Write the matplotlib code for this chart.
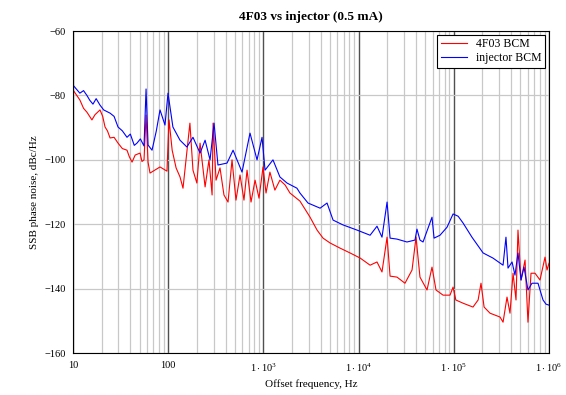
import numpy as np
import matplotlib.pyplot as plt
from matplotlib.ticker import FixedLocator, NullFormatter

# injector BCM (blue): offset frequency in Hz, SSB phase noise in dBc/Hz
inj_f = [10, 11.8, 12.9, 14.0, 15, 16.2, 17.5, 19.2, 21, 24.5, 27, 29.7, 33, 36.9, 40, 44,
         47, 51, 55.7, 58.5, 61.4, 67.6, 75,
         82, 92.5, 99.5, 112, 133, 157, 182, 216, 244, 275, 303, 333, 415, 480,
         596, 723, 857, 967, 1040, 1260, 1490, 1770, 2250, 2420, 2940, 3940,
         4660, 5390, 6860, 9620, 13200, 15600, 17600, 19900, 21400, 25300,
         32200, 39100, 41000, 44100, 47500, 59000, 62000, 71600, 84900, 98200,
         111000, 125000, 155000, 203000, 258000, 329000, 353000, 371000,
         409000, 439000, 472000, 508000, 546000, 601000, 662000, 766000,
         865000, 930000, 1000000]
inj_db = [-76.8, -79.3, -78.5, -80, -81.5, -82.7, -81, -83, -84.5, -85.5, -86.5, -89.8, -91, -93, -92, -95.5,
          -94.8, -93.5, -95.7, -78, -95.4, -97, -91,
          -84.5, -89.2, -79.3, -89.8, -93.9, -96, -93, -97.9, -93.9, -100, -88.6, -101.6, -101, -97,
          -103.8, -91.7, -100, -93, -103.2, -100, -105.3, -107.2, -108.8, -110.3, -113.4, -115,
          -113.4, -118.7, -120.2, -121.8, -123.4, -120.6, -124, -113.1, -124.3, -124.6,
          -125.5, -124.9, -121.5, -124.9, -125.5, -117.8, -124.3, -123.4, -120.9, -116.8,
          -117.5, -119.6, -124, -128.9, -130.5, -132.7, -124, -133.6,
          -131.7, -135.8, -128.9, -137.3, -133.3, -140.4, -138.3, -138.3,
          -143.5, -144.8, -145.1]

# 4F03 BCM (red)
f03_f = [10, 11.8, 12.9, 14.0, 15.8, 17, 19.2, 20.5, 21.7, 23, 24.5, 27, 29.7, 33, 36.9, 39,
         41.7, 45, 50.6, 53, 55.7, 58.5,
         61.4, 64.4, 82, 97, 102, 110, 121, 133, 143, 169, 182, 200, 216, 244, 268,
         289, 296, 318, 350, 385, 425, 468, 515, 568, 625, 673, 741, 817, 899, 991,
         1065, 1170, 1320, 1490, 1690, 1900, 2420, 3090, 3660, 4230, 5010, 6380,
         8130, 10400, 13200, 15600, 17600, 19900, 21400, 25300, 30700, 36400,
         40100, 44100, 52300, 59000, 65000, 77100, 91200, 98200, 105000, 125000,
         159000, 180000, 193000, 208000, 240000, 306000, 329000, 362000, 389000,
         419000, 450000, 472000, 508000, 560000, 601000, 647000, 713000, 804000,
         908000, 953000, 1000000]
f03_db = [-78.3, -81.4, -84, -85.2, -87.6, -86, -84.5, -86.5, -89.8, -91, -93.2, -93, -94.8, -96.5, -97, -99,
          -100.7, -98.5, -97.9, -100.5, -100, -86.1,
          -100.7, -104.1, -102.2, -103.5, -87.6, -97, -102.5, -105.3, -108.8, -88.6, -103.2, -107.2, -94.8, -108.4, -100,
          -110.9, -88.6, -106.3, -102.5, -110.9, -113.1, -100, -112.5, -104.7, -112.5, -103.2, -113.1, -106.3, -111.9, -102.2,
          -110.3, -103.8, -109.4, -106.3, -107.8, -110.3, -112.8, -117.8, -121.8, -124.3, -125.8, -127.4,
          -128.9, -130.5, -132.7, -131.7, -134.8, -124, -136.1, -136.4, -138.3, -134.2,
          -124, -136.4, -140.4, -133.3, -140.4, -142, -142, -139.5, -143.5, -144.5,
          -145.7, -143.5, -138.3, -145.7, -147.6, -148.8, -150.4, -142.6, -147.6,
          -135.2, -143.5, -121.8, -137.3, -131.1, -150.4, -135.2, -135.2, -137.3,
          -130.2, -134.2, -132.1]

xticks = [10, 100, 1e3, 1e4, 1e5, 1e6]
xticklabels = ['10', '100', r'$1\cdot10^{3}$', r'$1\cdot10^{4}$', r'$1\cdot10^{5}$', r'$1\cdot10^{6}$']
yticks = [-160, -140, -120, -100, -80, -60]

plt.rcParams['font.family'] = ['Liberation Serif', 'DejaVu Serif']
plt.rcParams['mathtext.fontset'] = 'custom'
plt.rcParams['mathtext.rm'] = 'Liberation Serif'
plt.rcParams['mathtext.it'] = 'Liberation Serif'

fig = plt.figure(figsize=(5.66, 3.95), dpi=100)
ax = fig.add_axes([0.129, 0.106, 0.841, 0.8155])

ax.plot(f03_f, f03_db, color='#ff0000', lw=0.8, label='4F03 BCM')
ax.plot(inj_f, inj_db, color='#0000ff', lw=0.8, label='injector BCM')

ax.set_xscale('log')
ax.set_xlim(10, 1e6)
ax.set_ylim(-160, -60)

# minor decade grid in light gray, decades darker
minors = [m * 10 ** d for d in range(1, 6) for m in range(2, 10)]
ax.xaxis.set_minor_locator(FixedLocator(minors))
ax.xaxis.set_minor_formatter(NullFormatter())
ax.set_xticks(xticks)
ax.set_xticklabels(xticklabels)
ax.set_yticks(yticks)
ax.set_yticklabels([str(v).replace('-', '\u2212') for v in yticks])
ax.grid(which='minor', axis='x', color='#c8c8c8', lw=0.9)
ax.grid(which='major', axis='x', color='#505050', lw=1.0)
ax.grid(which='major', axis='y', color='#c8c8c8', lw=0.9)
ax.set_axisbelow(True)

ax.tick_params(which='both', length=0, labelsize=7.5, pad=6)
ax.tick_params(axis='y', pad=5)
for s in ax.spines.values():
    s.set_color('black')
    s.set_linewidth(0.8)

ax.set_title('4F03 vs injector (0.5 mA)', fontsize=9.5, fontweight='bold', pad=8)
ax.set_xlabel('Offset frequency, Hz', fontsize=8, labelpad=4)
ax.set_ylabel('SSB phase noise, dBc/Hz', fontsize=8, labelpad=4)

leg = ax.legend(loc='upper right', fontsize=8.5, fancybox=False, framealpha=1,
                borderaxespad=0.3, handlelength=2.2, borderpad=0.3, labelspacing=0.2)
leg.get_frame().set_edgecolor('black')
leg.get_frame().set_linewidth(0.8)

fig.savefig('out.png', dpi=100)
